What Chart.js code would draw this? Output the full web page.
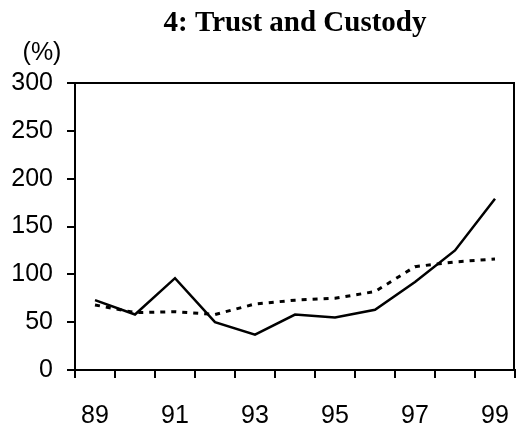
<!DOCTYPE html>
<html>
<head>
<meta charset="utf-8">
<script src="https://cdn.jsdelivr.net/npm/chart.js@4/dist/chart.umd.min.js"></script>
<style>
html,body{margin:0;padding:0;background:#fff;}
#wrap{width:517px;height:432px;position:relative;}
</style>
</head>
<body>
<div id="wrap"><canvas id="c" width="517" height="432"></canvas></div>
<script>
const years = ['89','90','91','92','93','94','95','96','97','98','99'];
const solidSeries = [73, 58, 96, 50, 37, 58, 55, 63, 92, 125, 179];
const dashedSeries = [68, 60, 61, 58, 69, 73, 75, 82, 108, 113, 116];
const yTicks = [0, 50, 100, 150, 200, 250, 300];
const titleText = '4: Trust and Custody';
const unitText = '(%)';

const framePlugin = {
  id: 'frame',
  afterDraw(chart) {
    const ctx = chart.ctx;
    const a = chart.chartArea;
    ctx.save();
    ctx.strokeStyle = '#000';
    ctx.lineWidth = 2;
    ctx.strokeRect(a.left, a.top, a.right - a.left - 1, a.bottom - a.top);
    ctx.fillStyle = '#000';
    ctx.font = 'bold 29px "Liberation Serif", "Times New Roman", serif';
    ctx.textAlign = 'center';
    ctx.textBaseline = 'alphabetic';
    ctx.fillText(titleText, (a.left + a.right) / 2, 31);
    ctx.font = '25px "Liberation Sans", Arial, sans-serif';
    ctx.fillText(unitText, 42, 60);
    ctx.restore();
  }
};

new Chart(document.getElementById('c'), {
  type: 'line',
  data: {
    labels: years,
    datasets: [
      { data: solidSeries, borderColor: '#000', borderWidth: 2.5, pointRadius: 0, tension: 0, fill: false },
      { data: dashedSeries, borderColor: '#000', borderWidth: 3, borderDash: [5, 6], pointRadius: 0, tension: 0, fill: false }
    ]
  },
  options: {
    responsive: false,
    animation: false,
    devicePixelRatio: 1,
    layout: { padding: { top: 83, right: 2, left: 0, bottom: 0 } },
    plugins: { legend: { display: false }, tooltip: { enabled: false }, title: { display: false } },
    scales: {
      x: {
        type: 'category',
        offset: true,
        afterFit(scale) { scale.height = 62; scale.paddingLeft = 0; scale.paddingRight = 0; },
        grid: { offset: true, drawOnChartArea: false, drawTicks: true, tickLength: 8, color: '#000', lineWidth: 2 },
        border: { color: '#000', width: 2 },
        ticks: {
          autoSkip: false, maxRotation: 0, color: '#000', padding: 23,
          font: { family: '"Liberation Sans", Arial, sans-serif', size: 25 },
          callback: function(v, i) { return (i % 2 === 0) ? years[i] : ''; }
        }
      },
      y: {
        min: 0, max: 300,
        afterBuildTicks(scale) { scale.ticks = yTicks.map(v => ({ value: v })); },
        afterFit(scale) { scale.width = 75; scale.paddingTop = 0; scale.paddingBottom = 0; },
        grid: { drawOnChartArea: false, drawTicks: true, tickLength: 8, color: '#000', lineWidth: 2 },
        border: { color: '#000', width: 2 },
        ticks: { color: '#000', padding: 14, font: { family: '"Liberation Sans", Arial, sans-serif', size: 25 } }
      }
    }
  },
  plugins: [framePlugin]
});
</script>
</body>
</html>
